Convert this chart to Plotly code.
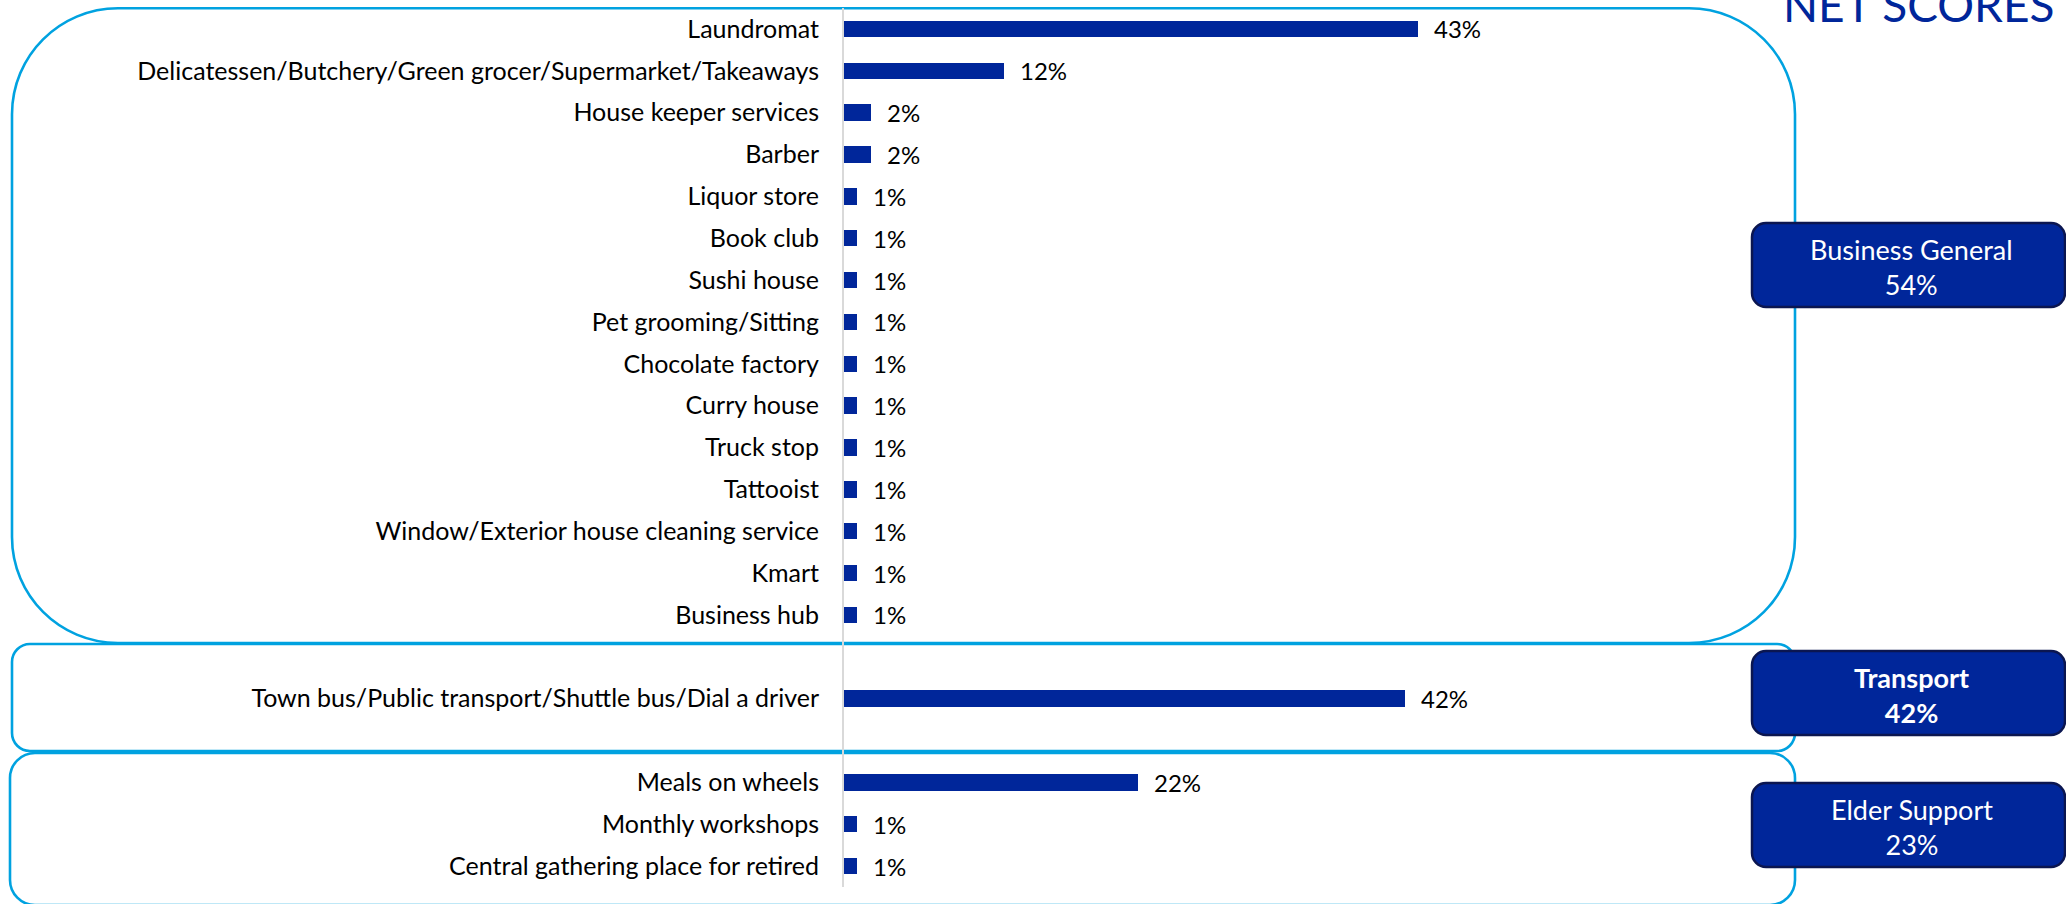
import plotly.graph_objects as go

# ---- data ----
business_items = [
    "Laundromat",
    "Delicatessen/Butchery/Green grocer/Supermarket/Takeaways",
    "House keeper services",
    "Barber",
    "Liquor store",
    "Book club",
    "Sushi house",
    "Pet grooming/Sitting",
    "Chocolate factory",
    "Curry house",
    "Truck stop",
    "Tattooist",
    "Window/Exterior house cleaning service",
    "Kmart",
    "Business hub",
]
business_values = [43, 12, 2, 2, 1, 1, 1, 1, 1, 1, 1, 1, 1, 1, 1]

transport_items = ["Town bus/Public transport/Shuttle bus/Dial a driver"]
transport_values = [42]

elder_items = [
    "Meals on wheels",
    "Monthly workshops",
    "Central gathering place for retired",
]
elder_values = [22, 1, 1]

group_names = ["Business General", "Transport", "Elder Support"]
group_net = [54, 42, 23]
group_bold = [False, True, False]

# ---- styling ----
BAR_COLOR = "#00269A"
NAVY = "#00269A"
NAVY_EDGE = "#0B1650"
OUTLINE = "#00A2E0"
FONT = "Lato"

W, H = 2066, 904
PL, PR, PT, PB = 844, 322, 8, 17
PW, PH = W - PL - PR, H - PT - PB
PX_PER_UNIT = 13.36

# row positions: groups stacked top-down with one empty row between groups
groups = [
    (business_items, business_values),
    (transport_items, transport_values),
    (elder_items, elder_values),
]
pos, labels, vals = [], [], []
row = 0
for gi, (items, values) in enumerate(groups):
    if gi > 0:
        row += 1
    for it, v in zip(items, values):
        pos.append(row)
        labels.append(it)
        vals.append(v)
        row += 1
n_rows = row

fig = go.Figure(
    go.Bar(
        x=vals,
        y=pos,
        orientation="h",
        width=0.395,
        marker=dict(color=BAR_COLOR, line=dict(width=0)),
        hoverinfo="skip",
    )
)

# value labels at the end of each bar
for p, v in zip(pos, vals):
    fig.add_annotation(
        x=v, y=p, xref="x", yref="y",
        text=f"{v}%", showarrow=False,
        xanchor="left", yanchor="middle", xshift=14,
        font=dict(family=FONT, size=24, color="#000000"),
    )


def fx(x):
    return (x - PL) / PW


def fy(y):
    return 1 - (y - PT) / PH


def rounded_path(x0, y0, x1, y1, r):
    k = 0.5523 * r
    pts = []

    def P(x, y):
        return f"{fx(x):.6f},{fy(y):.6f}"

    pts.append(f"M {P(x0 + r, y0)}")
    pts.append(f"L {P(x1 - r, y0)}")
    pts.append(f"C {P(x1 - r + k, y0)} {P(x1, y0 + r - k)} {P(x1, y0 + r)}")
    pts.append(f"L {P(x1, y1 - r)}")
    pts.append(f"C {P(x1, y1 - r + k)} {P(x1 - r + k, y1)} {P(x1 - r, y1)}")
    pts.append(f"L {P(x0 + r, y1)}")
    pts.append(f"C {P(x0 + r - k, y1)} {P(x0, y1 - r + k)} {P(x0, y1 - r)}")
    pts.append(f"L {P(x0, y0 + r)}")
    pts.append(f"C {P(x0, y0 + r - k)} {P(x0 + r - k, y0)} {P(x0 + r, y0)}")
    pts.append("Z")
    return " ".join(pts)


# group outlines
outline_boxes = [
    (12, 8.3, 1795, 643, 106),
    (12, 644, 1795, 751, 18),
    (10, 753, 1795, 905, 25),
]
for x0, y0, x1, y1, r in outline_boxes:
    fig.add_shape(
        type="path", xref="paper", yref="paper",
        path=rounded_path(x0, y0, x1, y1, r),
        line=dict(color=OUTLINE, width=2.6),
        fillcolor="rgba(0,0,0,0)",
        layer="below",
    )

# net score badges
badge_boxes = [(1752, 223, 2065, 307), (1752, 651, 2065, 735), (1752, 783, 2065, 867)]
for (x0, y0, x1, y1), name, net, bold in zip(badge_boxes, group_names, group_net, group_bold):
    fig.add_shape(
        type="path", xref="paper", yref="paper",
        path=rounded_path(x0, y0, x1, y1, 14),
        line=dict(color=NAVY_EDGE, width=2.5),
        fillcolor=NAVY,
        layer="above",
    )
    txt = f"{name}<br>{net}%"
    if bold:
        txt = f"<b>{name}</b><br><b>{net}%</b>"
    fig.add_annotation(
        x=fx((x0 + x1) / 2 + 3), y=fy((y0 + y1) / 2 + 2),
        xref="paper", yref="paper",
        text=txt, showarrow=False,
        xanchor="center", yanchor="middle",
        font=dict(family=FONT, size=27, color="#FFFFFF"),
    )

fig.add_annotation(
    x=fx(1918), y=fy(4.5), xref="paper", yref="paper",
    text="NET SCORES", showarrow=False,
    xanchor="center", yanchor="middle",
    font=dict(family=FONT, size=46, color="#00269A"),
)

fig.update_layout(
    width=W, height=H,
    margin=dict(l=PL, r=PR, t=PT, b=PB),
    paper_bgcolor="white", plot_bgcolor="white",
    showlegend=False,
    bargap=0,
)
fig.update_xaxes(
    range=[0, PW / PX_PER_UNIT],
    showticklabels=False, showgrid=False, zeroline=False, showline=False,
)
fig.update_yaxes(
    range=[n_rows - 0.5, -0.5],
    tickmode="array", tickvals=pos, ticktext=labels,
    ticks="", showgrid=False, zeroline=False,
    showline=True, linecolor="#D9D9D9", linewidth=2,
    ticklabelstandoff=18,
    tickfont=dict(family=FONT, size=25, color="#000000"),
)

fig.write_html("out.html")
